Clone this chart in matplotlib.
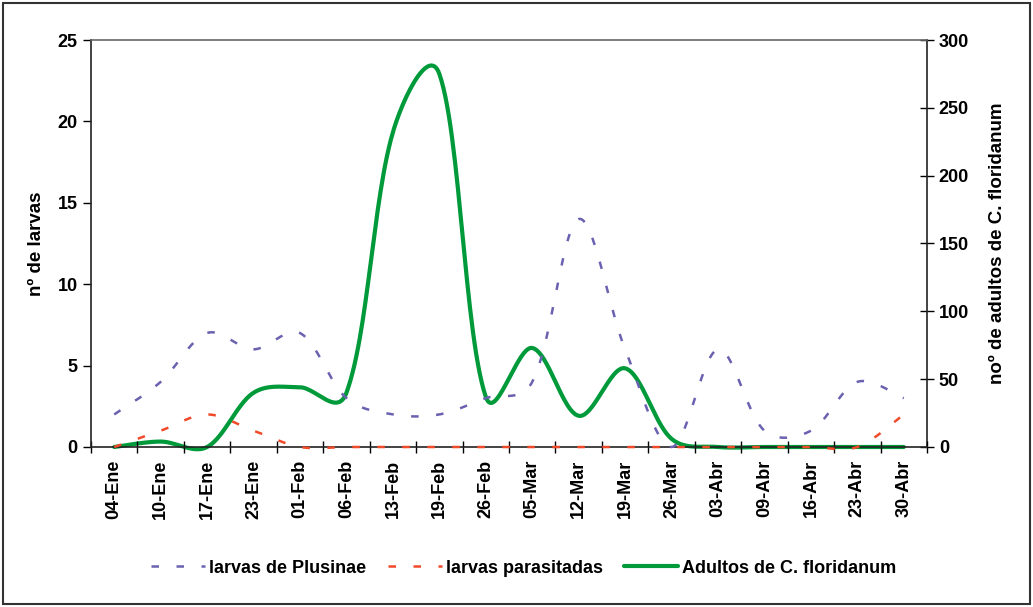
import numpy as np
import matplotlib.pyplot as plt
from matplotlib.patches import Rectangle

# Data
fechas = ['04-Ene', '10-Ene', '17-Ene', '23-Ene', '01-Feb', '06-Feb', '13-Feb', '19-Feb', '26-Feb',
          '05-Mar', '12-Mar', '19-Mar', '26-Mar', '03-Abr', '09-Abr', '16-Abr', '23-Abr', '30-Abr']
plusinae = [2, 4, 7, 6, 7, 3, 2, 2, 3, 4, 14, 6, 0, 6, 1, 1, 4, 3]
parasitadas = [0, 1, 2, 1, 0, 0, 0, 0, 0, 0, 0, 0, 0, 0, 0, 0, 0, 2]
adultos = [0, 4, 0, 40, 44, 40, 232, 275, 37, 73, 23, 58, 6, 0, 0, 0, 0, 0]


def smooth(y, sy, sx=46.4, n=30):
    # smoothed line like the spreadsheet one: Bezier segments whose handles
    # are weighted by the neighbouring segment lengths (in pixels)
    y = np.asarray(y, dtype=float) * sy
    x = np.arange(len(y), dtype=float) * sx
    pts = np.column_stack([x, y])
    m = len(pts)
    seg = np.sqrt(np.linalg.norm(np.diff(pts, axis=0), axis=1))
    xs, ys = [], []
    for i in range(m - 1):
        p0, p3 = pts[i], pts[i + 1]
        a = max(i - 1, 0)
        b = min(i + 2, m - 1)
        d_prev0 = seg[i - 1] if i > 0 else seg[i]
        d_next3 = seg[i + 1] if i + 1 < m - 1 else seg[i]
        t0 = pts[i + 1] - pts[a]
        t3 = pts[b] - pts[i]
        p1 = p0 + t0 * seg[i] / (3 * (d_prev0 + seg[i]))
        p2 = p3 - t3 * seg[i] / (3 * (seg[i] + d_next3))
        t = np.linspace(0, 1, n)[:, None]
        bz = (1 - t) ** 3 * p0 + 3 * (1 - t) ** 2 * t * p1 + 3 * (1 - t) * t ** 2 * p2 + t ** 3 * p3
        xs.extend(bz[:, 0] / sx)
        ys.extend(bz[:, 1] / sy)
    return np.array(xs), np.array(ys)


plt.rcParams['font.family'] = ['Liberation Sans', 'DejaVu Sans']
plt.rcParams['font.weight'] = 'bold'

fig = plt.figure(figsize=(10.33, 6.07), dpi=100)
ax = fig.add_axes([0.0881, 0.2636, 0.8093, 0.6705])
ax2 = ax.twinx()
ax.set_zorder(2)
ax2.set_zorder(1)
ax.patch.set_visible(False)
ax2.patch.set_facecolor('#FAFADC')

c_blue = '#6A62B0'
c_red = '#F04A2A'
c_green = '#009A3A'

xg, yg = smooth(adultos, sy=1.356)
l3, = ax2.plot(xg, yg, color=c_green, lw=3.0, solid_capstyle='round', clip_on=False,
               label='Adultos de C. floridanum')

xb, yb = smooth(plusinae, sy=16.27)
l1, = ax.plot(xb, yb, color=c_blue, lw=1.8, dashes=(3, 7), clip_on=False, zorder=3,
              label='larvas de Plusinae')
xr, yr = smooth(parasitadas, sy=16.27)
l2, = ax.plot(xr, yr, color=c_red, lw=1.8, dashes=(3, 7), clip_on=False, zorder=3,
              label='larvas parasitadas')

n = len(fechas)
ax.set_xlim(-0.5, n - 0.5)
ax.set_ylim(0, 25)
ax2.set_ylim(0, 300)
ax.set_yticks(range(0, 26, 5))
ax2.set_yticks(range(0, 301, 50))

ax.set_xticks(np.arange(n + 1) - 0.5)
ax.set_xticklabels([])
ax.set_xticks(np.arange(n), minor=True)
ax.set_xticklabels(fechas, minor=True, rotation=90, fontsize=13, fontweight='bold')
ax.tick_params(axis='x', which='major', direction='inout', length=8, width=1)
ax.tick_params(axis='x', which='minor', length=0, pad=9)
ax.tick_params(axis='y', direction='out', length=6, width=1, labelsize=13)
ax2.tick_params(axis='y', direction='inout', length=10, width=1, labelsize=13)

ax.set_ylabel('nº de larvas', fontsize=13.5, fontweight='bold', labelpad=9)
ax2.set_ylabel('noº de adultos de C. floridanum', fontsize=13.5, fontweight='bold', labelpad=14)

for s in ax.spines.values():
    s.set_color('#222222')
    s.set_linewidth(1.2)
ax.spines['top'].set_color('#666666')
ax.spines['right'].set_visible(False)
for k in ('left', 'bottom', 'top'):
    ax2.spines[k].set_visible(False)
ax2.spines['right'].set_color('#222222')
ax2.spines['right'].set_linewidth(1.2)

fig.legend(handles=[l1, l2, l3], loc='center', bbox_to_anchor=(0.507, 0.064), ncol=3,
           frameon=False, fontsize=13, handlelength=3.0, handletextpad=0.2, columnspacing=1.2)

fig.patches.append(Rectangle((0.003, 0.005), 0.994, 0.99, transform=fig.transFigure,
                             fill=False, edgecolor='#333333', lw=1.5))

fig.savefig('out.png', dpi=100)
